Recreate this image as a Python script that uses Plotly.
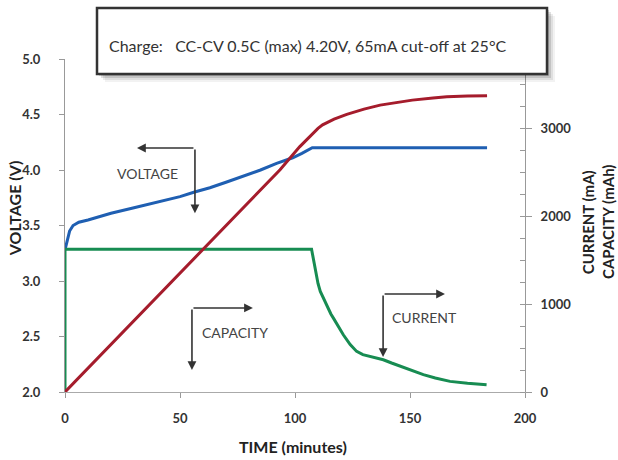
import plotly.graph_objects as go

# ---------------- data ----------------
volt_t = [0, 1, 2, 3.5, 6, 10, 20, 30, 40, 50, 56, 63, 70, 78, 85, 92, 99, 103, 106, 107.5, 120, 140, 160, 183.5]
volt_v = [3.28, 3.38, 3.45, 3.50, 3.53, 3.55, 3.61, 3.66, 3.71, 3.76, 3.80, 3.84, 3.89, 3.95, 4.00, 4.06, 4.11, 4.15, 4.18, 4.20, 4.20, 4.20, 4.20, 4.20]

curr_t = [0, 0, 107.2, 107.8, 108.5, 109.2, 110, 111, 112.3, 113.4, 114.5, 115.6, 116.7, 119, 121, 124, 126.8,
          129.5, 132.6, 135.5, 138.4, 142, 145.7, 150, 155.8, 161, 167.4, 175, 183.3]
curr_i = [0, 1625, 1625, 1540, 1420, 1320, 1235, 1145, 1068, 1000, 940, 888, 841, 740, 651, 540, 462,
          425, 405, 386, 367, 330, 292, 250, 197, 160, 121, 100, 83]

cap_t = [0, 30, 60, 93.5, 102, 110, 112, 117, 122.5, 130, 137, 145, 151, 160, 166, 175, 183.5]
cap_c = [0, 813, 1625, 2530, 2790, 3000, 3040, 3105, 3160, 3220, 3265, 3300, 3322, 3345, 3360, 3368, 3373]

x_ticks = [0, 50, 100, 150, 200]
volt_ticks = [2.0, 2.5, 3.0, 3.5, 4.0, 4.5, 5.0]
cap_ticks = [0, 1000, 2000, 3000]

title_text = "Charge:   CC-CV 0.5C (max) 4.20V, 65mA cut-off at 25°C"

FONT = "Lato"
TICKFONT = dict(family=FONT, size=13, color="#333", weight="bold")

fig = go.Figure()
fig.add_trace(go.Scatter(x=volt_t, y=volt_v, mode="lines", line=dict(color="#1f5fb2", width=3),
                         name="VOLTAGE", yaxis="y"))
fig.add_trace(go.Scatter(x=curr_t, y=curr_i, mode="lines", line=dict(color="#178c52", width=3),
                         name="CURRENT", yaxis="y2"))
fig.add_trace(go.Scatter(x=cap_t, y=cap_c, mode="lines", line=dict(color="#a51c2c", width=3),
                         name="CAPACITY", yaxis="y2"))

fig.update_layout(
    width=618, height=460,
    margin=dict(l=65, r=93, t=59, b=68),
    paper_bgcolor="white", plot_bgcolor="white",
    showlegend=False,
    xaxis=dict(range=[0, 200], tickvals=x_ticks, showgrid=False, zeroline=False,
               showline=True, linecolor="#aaa", linewidth=1,
               ticks="outside", ticklen=5, tickcolor="#999",
               tickfont=TICKFONT, ticklabelstandoff=9),
    yaxis=dict(range=[2, 5], tickvals=volt_ticks, tickformat=".1f", showgrid=False, zeroline=False,
               showline=True, linecolor="#999", linewidth=1,
               ticks="outside", ticklen=5, tickcolor="#999",
               tickfont=TICKFONT, ticklabelstandoff=16),
    yaxis2=dict(range=[0, 3790], tickvals=cap_ticks, overlaying="y", side="right",
                showgrid=False, zeroline=False,
                showline=True, linecolor="#999", linewidth=1,
                ticks="outside", ticklen=6, tickcolor="#999",
                minor=dict(dtick=250, ticks="inside", ticklen=5, tickcolor="#999"),
                tickfont=TICKFONT, ticklabelstandoff=6),
)

# axis titles
AXT = dict(family=FONT, color="#222", weight="bold")
fig.add_annotation(text="VOLTAGE (V)", xref="paper", yref="paper", x=-0.108, y=0.553,
                   xanchor="center", yanchor="middle",
                   textangle=-90, showarrow=False, font=dict(size=16, **AXT))
fig.add_annotation(text="CURRENT (mA)", xref="paper", yref="paper", x=1.137, y=0.51,
                   xanchor="center", yanchor="middle",
                   textangle=-90, showarrow=False, font=dict(size=15, **AXT))
fig.add_annotation(text="CAPACITY (mAh)", xref="paper", yref="paper", x=1.180, y=0.51,
                   xanchor="center", yanchor="middle",
                   textangle=-90, showarrow=False, font=dict(size=15, **AXT))
fig.add_annotation(text="TIME (minutes)", xref="paper", yref="paper", x=0.496, y=-0.165,
                   xanchor="center", yanchor="middle",
                   showarrow=False, font=dict(size=16, **AXT))

# title box with shadow (pixel sized, anchored to paper top-left of plot)
for off, alpha in [(8, 0.05), (6, 0.08), (4, 0.12), (2, 0.15)]:
    fig.add_shape(type="rect", xref="paper", yref="paper", xsizemode="pixel", ysizemode="pixel",
                  xanchor=0, yanchor=1, x0=32 + off, x1=482 + off, y0=-15 - off, y1=51 - off,
                  fillcolor=f"rgba(0,0,0,{alpha})", line=dict(width=0), layer="above")
fig.add_shape(type="rect", xref="paper", yref="paper", xsizemode="pixel", ysizemode="pixel",
              xanchor=0, yanchor=1, x0=32, x1=482, y0=-15, y1=51,
              fillcolor="white", line=dict(color="#333", width=2.5), layer="above")
fig.add_annotation(text=title_text, xref="paper", yref="paper", x=0.0913, y=1.042,
                   xanchor="left", yanchor="middle", showarrow=False,
                   font=dict(family=FONT, size=16, color="#333"))

# series labels with elbow arrows
LBL = dict(family=FONT, size=14, color="#444")
ARW = dict(showarrow=True, arrowhead=2, arrowsize=1.1, arrowwidth=1.6, arrowcolor="#333",
           axref="x", ayref="y", xref="x", yref="y", text="", standoff=0, startstandoff=0)

def elbow(ex, ey, hx, vy, label, lx, ly):
    fig.add_annotation(x=hx, y=ey, ax=ex, ay=ey, **ARW)
    fig.add_annotation(x=ex, y=vy, ax=ex, ay=ey, **ARW)
    fig.add_annotation(text=label, x=lx, y=ly, xref="x", yref="y", showarrow=False, font=LBL)

elbow(56.5, 4.198, 31.3, 3.61, "VOLTAGE", 35.7, 3.973)
elbow(55.2, 2.757, 81.7, 2.198, "CAPACITY", 73.9, 2.54)
elbow(138.3, 2.883, 165.2, 2.315, "CURRENT", 156.1, 2.667)

fig.write_html("out.html")
